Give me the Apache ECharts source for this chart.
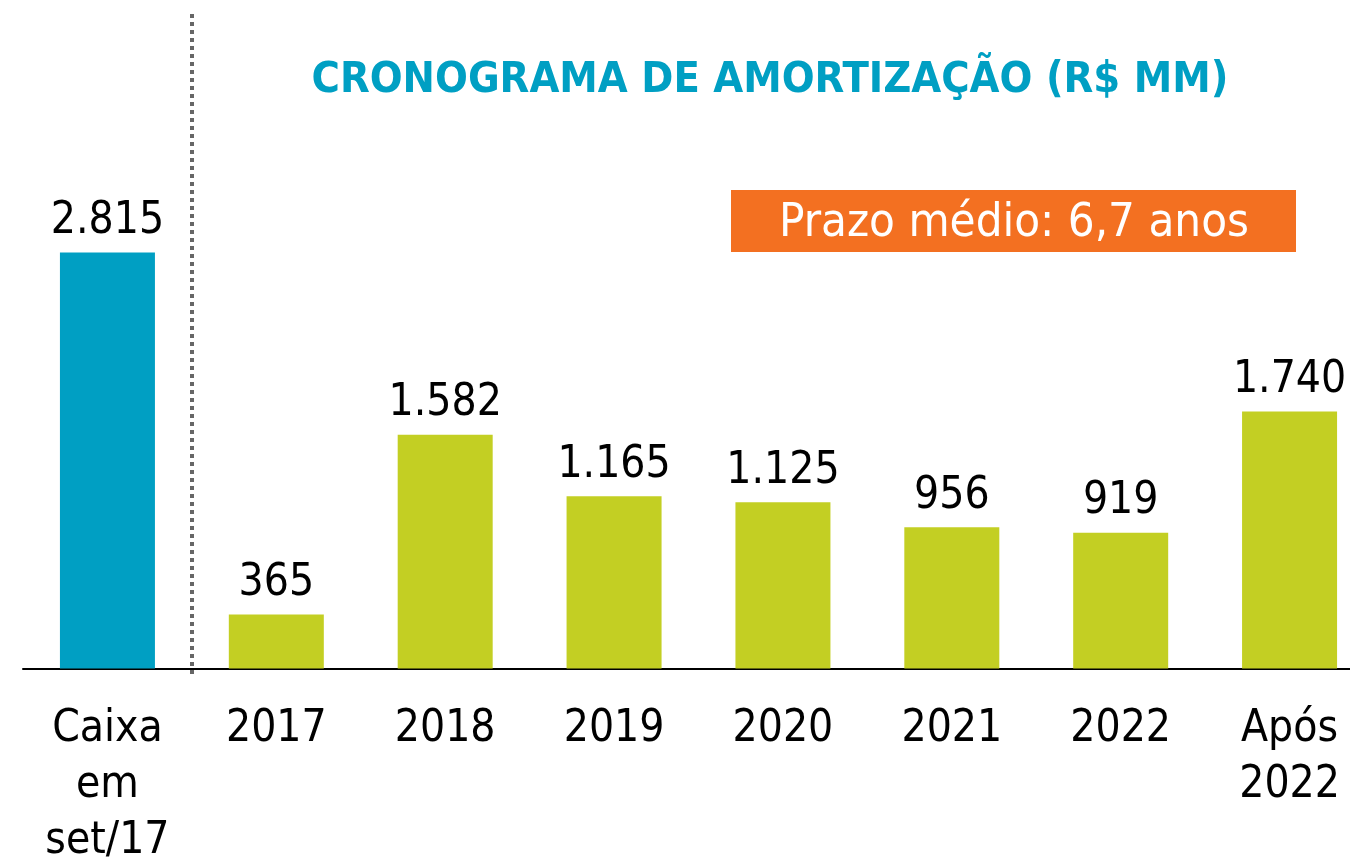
<!DOCTYPE html>
<html>
<head>
<meta charset="utf-8">
<title>Cronograma de amortização</title>
<script src="https://cdn.jsdelivr.net/npm/echarts@6/dist/echarts.min.js"></script>
</head>
<body style="margin:0;background:#fff">
<div id="chart" style="width:1350px;height:861px"></div>
<script type="text/javascript">
// categorias e valores (R$ MM)
var categorias = ['Caixa\nem\nset/17', '2017', '2018', '2019', '2020', '2021', '2022', 'Após\n2022'];
var valores = [2815, 365, 1582, 1165, 1125, 956, 919, 1740];
var rotulos = ['2.815', '365', '1.582', '1.165', '1.125', '956', '919', '1.740'];

var azul = '#009FC3';
var verde = '#C3CF23';
var fonte = '"DejaVu Sans Condensed", "DejaVu Sans"';

var myChart = echarts.init(document.getElementById('chart'));

myChart.setOption({
  animation: false,
  textStyle: { fontFamily: fonte },
  title: {
    text: 'CRONOGRAMA DE AMORTIZAÇÃO (R$ MM)',
    left: 765, top: 54, textAlign: 'center',
    textStyle: { color: azul, fontSize: 43, fontWeight: 'bold', fontFamily: fonte }
  },
  grid: { left: 23, width: 1351, top: 77.5, bottom: 192.5, outerBoundsMode: 'none', containLabel: false },
  xAxis: {
    type: 'category',
    data: categorias,
    axisLine: { lineStyle: { color: '#000', width: 2 } },
    axisTick: { show: false },
    axisLabel: {
      color: '#000', fontSize: 44, lineHeight: 56, margin: 33,
      interval: 0, align: 'center', verticalAlign: 'top'
    }
  },
  yAxis: { type: 'value', min: 0, max: 4000, show: false, splitLine: { show: false } },
  series: [{
    type: 'bar',
    barWidth: 95,
    data: valores.map(function (v, i) {
      return { value: v, itemStyle: { color: i === 0 ? azul : verde } };
    }),
    label: {
      show: true, position: 'top', distance: 9,
      color: '#000', fontSize: 44, lineHeight: 44,
      formatter: function (p) { return rotulos[p.dataIndex]; }
    }
  }],
  graphic: [
    {
      type: 'line',
      shape: { x1: 192, y1: 14, x2: 192, y2: 674 },
      style: { stroke: '#666', lineWidth: 4, lineDash: [4, 4] }
    },
    {
      type: 'rect',
      shape: { x: 731, y: 190, width: 565, height: 62 },
      style: { fill: '#F37021' }
    },
    {
      type: 'text',
      x: 1014, y: 224,
      style: {
        text: 'Prazo médio: 6,7 anos', fill: '#fff',
        font: '47px ' + fonte, align: 'center', verticalAlign: 'middle'
      }
    }
  ]
});
</script>
</body>
</html>
